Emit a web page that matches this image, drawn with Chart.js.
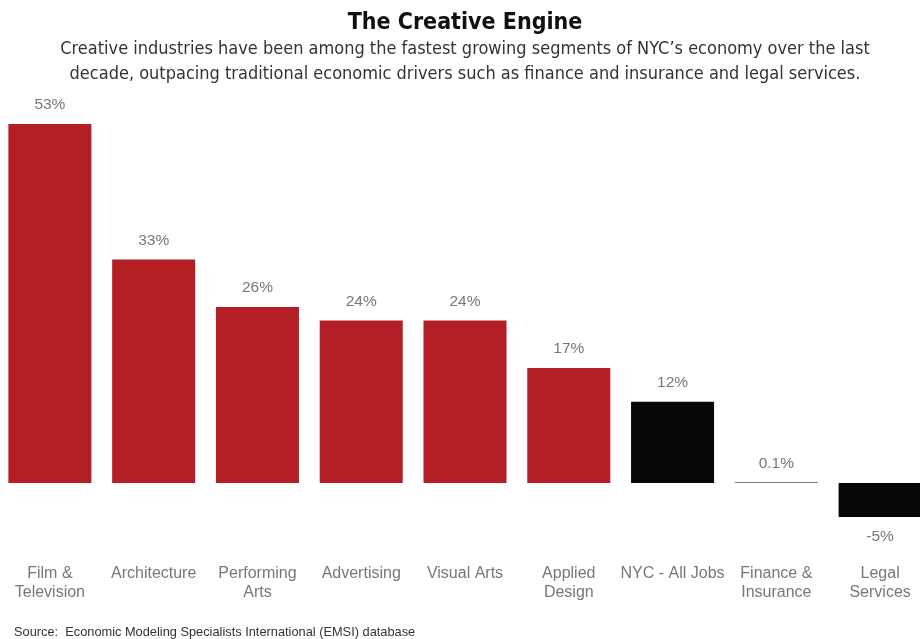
<!DOCTYPE html>
<html>
<head>
<meta charset="utf-8">
<title>The Creative Engine</title>
<script src="https://cdn.jsdelivr.net/npm/chart.js@4/dist/chart.umd.min.js"></script>
<style>
  html, body { margin: 0; padding: 0; background: #fff; }
  #wrap { position: relative; width: 920px; height: 639px; overflow: hidden; }
  #box { position: absolute; left: -2px; top: 0; width: 934px; height: 639px; }
</style>
</head>
<body>
<div id="wrap"><div id="box"><canvas id="engineChart"></canvas></div></div>
<script>
// employment growth over the decade, in percent
const categories = [
  ["Film &", "Television"],
  "Architecture",
  ["Performing", "Arts"],
  "Advertising",
  "Visual Arts",
  ["Applied", "Design"],
  "NYC - All Jobs",
  ["Finance &", "Insurance"],
  ["Legal", "Services"],
];
const growth = [53, 33, 26, 24, 24, 17, 12, 0.1, -5];
const groups = ["creative", "creative", "creative", "creative", "creative", "creative", "other", "other", "other"];

const groupColors = { creative: "#b31f24", other: "#050708" };
const grey = "#777777";
const condensed = "'DejaVu Sans Condensed', 'Liberation Sans Narrow', sans-serif";
const plain = "'Liberation Sans', Arial, sans-serif";

// percent labels above (or under) each bar
const valueLabels = {
  id: "valueLabels",
  afterDatasetsDraw(chart) {
    const { ctx } = chart;
    const meta = chart.getDatasetMeta(0);
    ctx.save();
    ctx.font = "15.5px " + plain;
    ctx.fillStyle = grey;
    ctx.textAlign = "center";
    ctx.textBaseline = "middle";
    meta.data.forEach((bar, i) => {
      const v = growth[i];
      const y = v >= 0 ? bar.y - 19 : bar.y + 20;
      ctx.fillText(v + "%", bar.x, y);
    });
    ctx.restore();
  },
};

// source line in the bottom-left corner
const sourceNote = {
  id: "sourceNote",
  afterDraw(chart) {
    const { ctx } = chart;
    ctx.save();
    ctx.font = "12.8px " + plain;
    ctx.fillStyle = "#333";
    ctx.textAlign = "left";
    ctx.textBaseline = "middle";
    ctx.fillText("Source:  Economic Modeling Specialists International (EMSI) database", 16, 632);
    ctx.restore();
  },
};

new Chart(document.getElementById("engineChart"), {
  type: "bar",
  data: {
    labels: categories,
    datasets: [{
      data: growth,
      backgroundColor: groups.map((g) => groupColors[g]),
      barPercentage: 0.8,
      categoryPercentage: 1.0,
    }],
  },
  options: {
    responsive: true,
    maintainAspectRatio: false,
    animation: false,
    layout: { padding: { left: 0, right: 0, top: 0, bottom: 34 } },
    plugins: {
      legend: { display: false },
      tooltip: { enabled: false },
      title: {
        display: true,
        text: "The Creative Engine",
        color: "#111",
        font: { family: condensed, size: 23, weight: "bold" },
        padding: { top: 9, bottom: 0 },
      },
      subtitle: {
        display: true,
        text: [
          "Creative industries have been among the fastest growing segments of NYC\u2019s economy over the last",
          "decade, outpacing traditional economic drivers such as finance and insurance and legal services.",
        ],
        color: "#333",
        font: { family: condensed, size: 18, lineHeight: 1.39 },
        padding: { top: 0, bottom: 17 },
      },
    },
    scales: {
      y: {
        display: false,
        min: -10.3,
        max: 56,
      },
      x: {
        grid: { display: false },
        border: { display: false },
        ticks: {
          color: grey,
          padding: 3,
          maxRotation: 0,
          autoSkip: false,
          font: { family: plain, size: 16, lineHeight: 1.19 },
        },
      },
    },
  },
  plugins: [valueLabels, sourceNote],
});
</script>
</body>
</html>
